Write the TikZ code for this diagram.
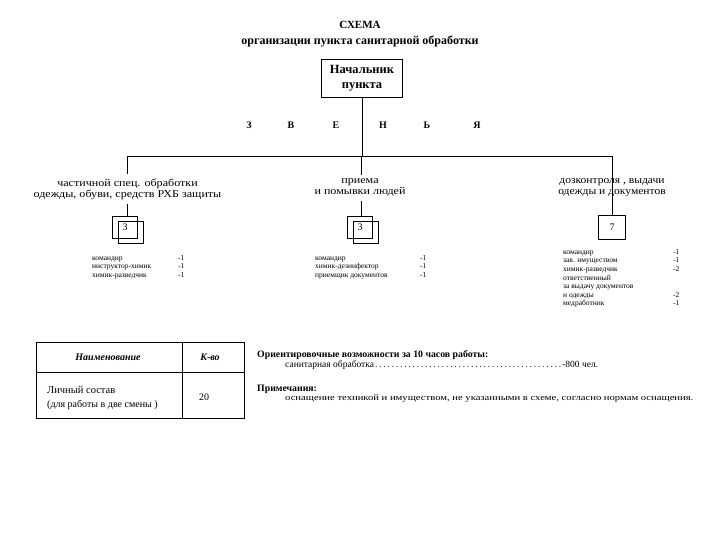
\documentclass[tikz,border=0pt]{standalone}
\usepackage{fontspec}
\setmainfont{Liberation Serif}
\newcommand{\fsz}[2]{\fontsize{#1}{#2}\selectfont}
\newcommand{\wide}[2]{\scalebox{#1}[1]{#2}}
\tikzset{
  lbl/.style={inner sep=0pt, align=center},
  cntbox/.style={draw, line width=0.6pt, minimum width=25pt, minimum height=22pt, inner sep=0pt, font=\fsz{10}{12}},
  conn/.style={line width=0.7pt},
  lst/.style={anchor=north west, inner sep=0pt, font=\fsz{7.5}{8.6}},
  note/.style={anchor=west, inner sep=0pt, font=\fsz{9.5}{11}},
}
\begin{document}
\begin{tikzpicture}[x=1pt,y=-1pt]
\useasboundingbox[fill=white] (0,0) rectangle (720,540);
% title
\node[lbl, font=\bfseries\fsz{11}{13}] (title) at (360,25) {СХЕМА};
\node[lbl, font=\bfseries\fsz{12}{13}] (subtitle) at (360,42) {организации пункта санитарной обработки};
% chief
\node[draw, line width=0.6pt, minimum width=81pt, minimum height=38pt, inner sep=0pt, align=center,
      font=\bfseries\fsz{12.5}{15}] (chief) at (362,78) {Начальник\\пункта};
% letters
\foreach \x/\t [count=\i] in {249/З,291/В,336/Е,383/Н,427/Ь,477/Я}
  \node[lbl, font=\bfseries\fsz{10}{12}] (let\i) at (\x,125) {\t};
% junctions
\coordinate (jc) at (362,156);
\coordinate (jl) at (127,156);
\coordinate (jm) at (361,156);
\coordinate (jr) at (612,156);
\draw[conn] (chief.south) -- (jc);
\draw[conn] (jl) -- (jr);
% left branch
\node[lbl, font=\fsz{10.5}{11}, inner ysep=4pt] (lab1) at (127.5,189)
  {\wide{1.15}{частичной спец. обработки}\\\wide{1.15}{одежды, обуви, средств РХБ защиты}};
\node[cntbox] (b1) at (125,227) {3};
\node[cntbox] (b1b) at (130.5,232) {};
\draw[conn] (jl) -- (jl |- lab1.north);
\draw[conn] (jl |- lab1.south) -- (jl |- b1.north);
% middle branch
\node[lbl, font=\fsz{10.5}{11}, inner ysep=4pt] (lab2) at (360,188)
  {\wide{1.15}{приема}\\\wide{1.15}{и помывки людей}};
\node[cntbox] (b2) at (360,227) {3};
\node[cntbox] (b2b) at (365.5,232) {};
\draw[conn] (jm) -- (jm |- lab2.north);
\draw[conn] (jm |- lab2.south) -- (jm |- b2.north);
% right branch
\node[lbl, font=\fsz{10.5}{11}] (lab3) at (612,188)
  {\wide{1.1}{дозконтроля , выдачи}\\\wide{1.1}{одежды и документов}};
\node[cntbox, minimum width=27pt, minimum height=24pt] (b3) at (612,227) {7};
\draw[conn] (jr) -- (jr |- b3.north);
% lists
\node[lst] (l1) at (92,254) {\begin{tabular}{@{}p{86pt}@{}r@{}}
командир & -1\\ инструктор-химик & -1\\ химик-разведчик & -1\end{tabular}};
\node[lst] (l2) at (315,254) {\begin{tabular}{@{}p{105pt}@{}r@{}}
командир & -1\\ химик-дезинфектор & -1\\ приемщик документов & -1\end{tabular}};
\node[lst] (l3) at (563,248) {\begin{tabular}{@{}p{110pt}@{}r@{}}
командир & -1\\ зав. имуществом & -1\\ химик-разведчик & -2\\ ответственный & \\ за выдачу документов & \\ и одежды & -2\\ медработник & -1\end{tabular}};
% table
\node[draw, line width=0.6pt, minimum width=208pt, minimum height=76pt, inner sep=0pt] (tbl) at (140,380) {};
\coordinate (tv1) at (182,342);
\coordinate (tv2) at (182,418);
\coordinate (th1) at (36,372);
\coordinate (th2) at (244,372);
\draw[line width=0.6pt] (tv1) -- (tv2);
\draw[line width=0.6pt] (th1) -- (th2);
\node[lbl, font=\bfseries\itshape\fsz{10}{12}] (hname) at (108,357) {Наименование};
\node[lbl, font=\bfseries\itshape\fsz{10}{12}] (hcnt) at (210,357) {К-во};
\node[lbl, anchor=west, font=\fsz{10.5}{12}] (r1) at (47,390) {Личный состав};
\node[lbl, anchor=west, font=\fsz{10}{12}] (r2) at (47,405) {(для работы в две смены )};
\node[lbl, font=\fsz{10}{12}] (r3) at (204,397) {20};
% notes
\node[note, font=\bfseries\fsz{9.8}{11}] (n1) at (257,355) {Ориентировочные возможности за 10 часов работы:};
\node[note] (n2) at (285,365) {\makebox[313pt][s]{санитарная обработка\dotfill-800 чел.}};
\node[note, font=\bfseries\fsz{9.8}{11}] (n3) at (257,389) {Примечания:};
\node[note, font=\fsz{8.5}{10}] (n4) at (285,399) {\wide{1.25}{оснащение техникой и имуществом, не указанными в схеме, согласно нормам оснащения.}};
\end{tikzpicture}
\end{document}
